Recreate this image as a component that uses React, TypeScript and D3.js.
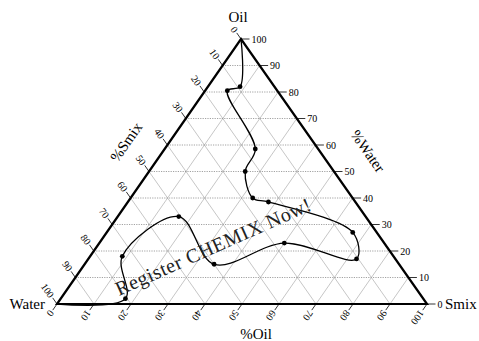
import React, { useEffect, useRef } from "react";
import * as d3 from "d3";

// phase boundary (percent)
const oilPct = [100, 82, 80.5, 58.5, 50, 40, 38.5, 27, 17, 23, 15, 33, 18, 2, 0];
const smixPct = [0, 8.7, 6, 24.5, 26, 33, 38, 66.5, 72.5, 50, 35, 16.5, 8.7, 17.5, 0];
// which points carry a marker
const marked = [false, true, true, true, true, true, true, true, true, true, true, true, true, true, false];

const ticks = [0, 10, 20, 30, 40, 50, 60, 70, 80, 90, 100];
const gridLevels = [10, 20, 30, 40, 50, 60, 70, 80, 90];

const width = 479;
const height = 341;

const App = () => {
  const ref = useRef<SVGSVGElement>(null);

  useEffect(() => {
    const svg = d3.select(ref.current);
    svg.selectAll("*").remove();
    svg.style("font-family", "'Liberation Serif', 'Times New Roman', serif");

    // base runs Water -> Smix, height runs up to Oil apex
    const xs = d3.scaleLinear().domain([0, 100]).range([57, 427]);
    const ys = d3.scaleLinear().domain([0, 100]).range([304, 39]);
    const apexX = 241;
    const k = (apexX - xs(0)) / (xs(100) - xs(0));
    const pt = (oil: number, smix: number): [number, number] => [xs(smix + oil * k), ys(oil)];

    const g = svg.append("g");

    // grid
    gridLevels.forEach((i) => {
      const h0 = pt(i, 0), h1 = pt(i, 100 - i);
      g.append("line")
        .attr("x1", h0[0]).attr("y1", h0[1]).attr("x2", h1[0]).attr("y2", h1[1])
        .attr("stroke", "#8a8a8a").attr("stroke-width", 0.8).attr("stroke-dasharray", "1.2,1.2");
      const a0 = pt(0, i), a1 = pt(100 - i, i);
      const b0 = pt(0, 100 - i), b1 = pt(100 - i, 0);
      [[a0, a1], [b0, b1]].forEach(([p, q]) => {
        g.append("line")
          .attr("x1", p[0]).attr("y1", p[1]).attr("x2", q[0]).attr("y2", q[1])
          .attr("stroke", "#a0a0a0").attr("stroke-width", 0.6);
      });
    });

    // triangle outline
    const corners = [pt(0, 0), pt(0, 100), pt(100, 0)];
    g.append("polygon")
      .attr("points", corners.map((c) => c.join(",")).join(" "))
      .attr("fill", "none").attr("stroke", "#000").attr("stroke-width", 2.2)
      .attr("stroke-linejoin", "miter");

    const t = 2.3;
    const tickFont = 10;

    // right side: oil levels, horizontal ticks
    ticks.forEach((v) => {
      const p = pt(v, 100 - v), q = pt(v, 100 - v + t);
      g.append("line").attr("x1", p[0]).attr("y1", p[1]).attr("x2", q[0]).attr("y2", q[1])
        .attr("stroke", "#000").attr("stroke-width", 0.8);
      g.append("text").attr("x", q[0] + 2).attr("y", q[1]).attr("dy", "0.35em")
        .attr("font-size", tickFont).text(v);
    });

    // bottom: smix levels
    const bAng = (Math.atan2(ys(-1) - ys(0), xs(-k) - xs(0)) * 180) / Math.PI;
    ticks.forEach((v) => {
      const p = pt(0, v), q = pt(-t, v);
      g.append("line").attr("x1", p[0]).attr("y1", p[1]).attr("x2", q[0]).attr("y2", q[1])
        .attr("stroke", "#000").attr("stroke-width", 0.8);
      g.append("text")
        .attr("transform", `translate(${q[0]},${q[1]}) rotate(${bAng})`)
        .attr("x", 1.5).attr("dy", "0.35em").attr("font-size", tickFont).text(v);
    });

    // left side: water levels
    ticks.forEach((v) => {
      const oil = 100 - v;
      const p = pt(oil, 0), q = pt(oil + t, -t);
      const ang = (Math.atan2(q[1] - p[1], q[0] - p[0]) * 180) / Math.PI + 180;
      g.append("line").attr("x1", p[0]).attr("y1", p[1]).attr("x2", q[0]).attr("y2", q[1])
        .attr("stroke", "#000").attr("stroke-width", 0.8);
      g.append("text")
        .attr("transform", `translate(${q[0]},${q[1]}) rotate(${ang})`)
        .attr("x", -1.5).attr("dy", "0.35em").attr("text-anchor", "end")
        .attr("font-size", tickFont).text(v);
    });

    // vertex and axis titles
    const title = 15;
    g.append("text").attr("x", 238).attr("y", 22).attr("text-anchor", "middle").attr("font-size", title).text("Oil");
    g.append("text").attr("x", 45).attr("y", 309).attr("text-anchor", "end").attr("font-size", title).text("Water");
    g.append("text").attr("x", 445).attr("y", 309).attr("font-size", title).text("Smix");
    g.append("text").attr("x", 256).attr("y", 339).attr("text-anchor", "middle").attr("font-size", title).text("%Oil");
    g.append("text").attr("transform", "translate(126,142) rotate(-55)")
      .attr("text-anchor", "middle").attr("dy", "0.35em").attr("font-size", title).text("%Smix");
    g.append("text").attr("transform", "translate(368,151) rotate(55)")
      .attr("text-anchor", "middle").attr("dy", "0.35em").attr("font-size", title).text("%Water");

    // boundary curve
    const pts = oilPct.map((o, i) => pt(o, smixPct[i]));
    const line = d3.line().curve(d3.curveCatmullRom.alpha(0.5));
    g.append("path").attr("d", line(pts)).attr("fill", "none")
      .attr("stroke", "#000").attr("stroke-width", 1.3);

    g.selectAll("circle.pt")
      .data(pts.filter((_, i) => marked[i]))
      .join("circle")
      .attr("class", "pt")
      .attr("cx", (d) => d[0]).attr("cy", (d) => d[1]).attr("r", 2.4)
      .attr("fill", "#000");

    // watermark
    g.append("text")
      .attr("transform", "translate(119,296) rotate(-24)")
      .attr("font-size", 20).attr("fill", "#222").attr("textLength", 212)
      .text("Register CHEMIX Now!");
  }, []);

  return (
    <svg ref={ref} width={width} height={height}
      style={{ position: "absolute", left: 0, top: 0, background: "#fff" }} />
  );
};

export default App;
